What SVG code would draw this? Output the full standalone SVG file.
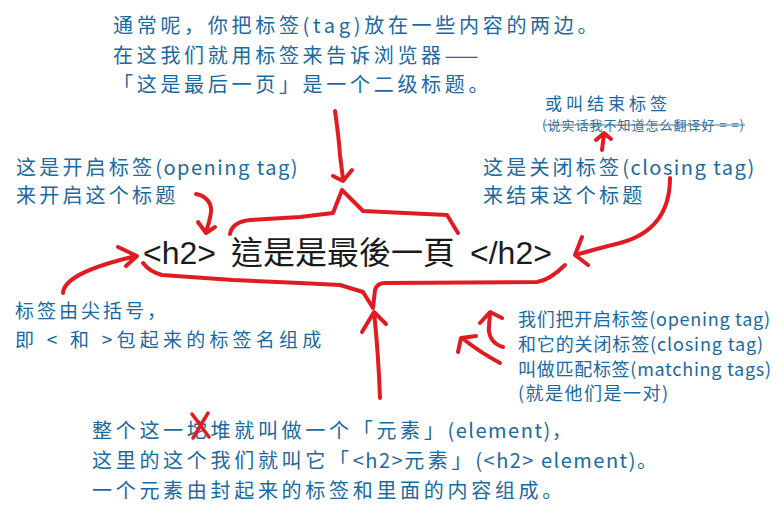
<svg xmlns="http://www.w3.org/2000/svg" width="784" height="518" viewBox="0 0 784 518">
<style>
.b{font-family:"Noto Sans CJK SC","Noto Sans",sans-serif;fill:#1a69a0;font-size:20px;letter-spacing:3.7px}
.m{font-size:20px;letter-spacing:3.2px}
.s{font-size:18px;letter-spacing:2px}
.xs{font-size:13px;letter-spacing:1px;fill:#2f6f9e}
.l{letter-spacing:1.5px}
.r{fill:none;stroke:#e01b22;stroke-width:4;stroke-linecap:round;stroke-linejoin:round}
.c{font-family:"Liberation Sans","Noto Sans CJK TC",sans-serif;font-size:32px;fill:#1a1a1a}
.cj{font-family:"Noto Sans CJK TC",sans-serif}
</style>
<rect width="784" height="518" fill="#fff"/>
<g id="top-note">
<text class="b" x="113" y="33">通常呢，你把标签(tag)放在一些内容的两边。</text>
<text class="b" x="113" y="63">在这我们就用标签来告诉浏览器——</text>
<text class="b" x="113" y="92">「这是最后一页」是一个二级标题。</text>
</g>
<g id="closing-alt">
<text class="b" x="545" y="110" style="font-size:17px;letter-spacing:4px">或叫结束标签</text>
<text class="b xs" x="542" y="130" textLength="203" lengthAdjust="spacing">(说实话我不知道怎么翻译好 = =)</text>
<line x1="543" y1="125" x2="745" y2="125" stroke="#4d7396" stroke-width="1"/>
</g>
<g id="opening-note">
<text class="b m" x="16" y="175">这是开启标签<tspan class="l">(opening tag)</tspan></text>
<text class="b m" x="16" y="203">来开启这个标题</text>
</g>
<g id="closing-note">
<text class="b m" x="483" y="175">这是关闭标签<tspan class="l">(closing tag)</tspan></text>
<text class="b m" x="483" y="203">来结束这个标题</text>
</g>
<g id="element">
<text class="c" y="264"><tspan x="143">&lt;h2&gt;</tspan><tspan class="cj" x="231">這是是最後一頁</tspan><tspan x="470">&lt;/h2&gt;</tspan></text>
</g>
<g id="bracket-note">
<text class="b" x="15" y="318" style="font-size:19px;letter-spacing:3px">标签由尖括号，</text>
<text class="b" x="15" y="347" style="font-size:19px" textLength="310" lengthAdjust="spacing">即 &lt; 和 &gt;包起来的标签名组成</text>
</g>
<g id="matching-note">
<text class="b s" x="518" y="326" textLength="254" lengthAdjust="spacing">我们把开启标签(opening tag)</text>
<text class="b s" x="518" y="351" textLength="247" lengthAdjust="spacing">和它的关闭标签(closing tag)</text>
<text class="b s" x="518" y="376" textLength="255" lengthAdjust="spacing">叫做匹配标签(matching tags)</text>
<text class="b s" x="518" y="400" textLength="152" lengthAdjust="spacing">(就是他们是一对)</text>
</g>
<g id="element-note">
<text class="b" x="92" y="438">整个这一坨堆就叫做一个「元素」<tspan class="l">(element)</tspan>，</text>
<text class="b" x="92" y="468">这里的这个我们就叫它「<tspan class="l">&lt;h2&gt;</tspan>元素」<tspan class="l">(&lt;h2&gt; element)</tspan>。</text>
<text class="b" x="92" y="498">一个元素由封起来的标签和里面的内容组成。</text>
<path class="r" d="M192,414 L209,437 M208,413 L193,438" style="stroke-width:3.5"/>
</g>
<g id="connectors">
<path class="r" d="M230,234 Q232,222 250,220 L300,217 L333,213 L342,190 L363,211 L447,215 L458,233"/>
<path class="r" d="M335,111 C337,125 339,140 340,155 L343,179 M333,176 L343,181 L352,170"/>
<path class="r" d="M196,194 C206,196 212,203 211,212 C210,220 208,226 206,232 M198,222 L206,233 L215,227"/>
<path class="r" d="M63,293 C64,280 85,268 136,256 M118,247 L137,256 L126,266"/>
<path class="r" d="M143,263 Q150,272 162,275 L233,280 L300,283 L340,285 L363,292 L373,308 L375,290 Q377,283 385,283 L537,282 Q550,280 565,265"/>
<path class="r" d="M380,398 C379,370 377,340 374,312 M362,332 L374,312 L386,324"/>
<path class="r" d="M670,178 C670,215 650,235 620,243 C600,248 585,252 576,255 M582,237 L575,255 L588,265"/>
<path class="r" d="M503,347 C492,344 488,335 489,326 L490,313 M480,323 L490,312 L502,318"/>
<path class="r" d="M500,363 C485,355 472,346 462,338 M458,352 L461,338 L476,336"/>
<path class="r" d="M602,150 L604,134 M596,140 L604,133 L611,139"/>
</g>
</svg>
